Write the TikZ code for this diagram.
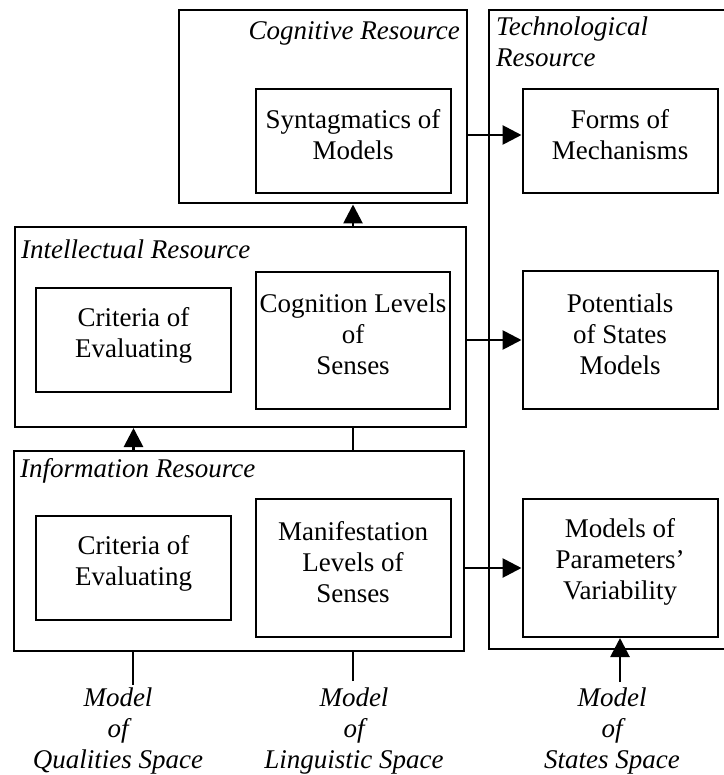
\documentclass[tikz,border=0pt]{standalone}
\usepackage{fontspec}
\setmainfont{Liberation Serif}
\usetikzlibrary{arrows.meta}
\tikzset{
  txt/.style={font=\fontsize{27}{31}\selectfont, align=center, inner sep=0pt},
  ttl/.style={font=\fontsize{27}{31}\selectfont\itshape, align=left, inner sep=0pt},
  lbl/.style={font=\fontsize{27}{31}\selectfont\itshape, align=center, inner sep=0pt},
  inbox/.style={draw, line width=2pt, inner sep=0pt},
  outbox/.style={draw, line width=2pt, inner sep=0pt},
  arr/.style={line width=2.8pt, -{Triangle[length=19pt,width=19pt]}},
  ln/.style={line width=2.8pt}
}
\begin{document}
\begin{tikzpicture}[x=1pt,y=-1pt]
\useasboundingbox (0,0) rectangle (723,775);
% outer boxes
\node[outbox, minimum width=288pt, minimum height=193pt] (cog) at (323,107) {};
\node[outbox, minimum width=251pt, minimum height=639pt] (tech) at (614.5,329.5) {};
\node[outbox, minimum width=451pt, minimum height=200pt] (intel) at (240.5,327) {};
\node[outbox, minimum width=450pt, minimum height=200pt] (info) at (239,551) {};
% titles
\node[ttl, anchor=east] (cogt) at (460,33) {Cognitive Resource};
\node[ttl, anchor=north west] (techt) at (496,17) {Technological\\Resource};
\node[ttl, anchor=west] (intelt) at (21,249) {Intellectual Resource};
\node[ttl, anchor=west] (infot) at (20,471) {Information Resource};
% inner boxes
\node[inbox, minimum width=195pt, minimum height=104pt] (syn) at (353,141) {};
\node[inbox, minimum width=195pt, minimum height=104pt] (forms) at (620,141) {};
\node[inbox, minimum width=195pt, minimum height=104pt] (crit1) at (133.5,340) {};
\node[inbox, minimum width=194pt, minimum height=137pt] (cogn) at (353,340.5) {};
\node[inbox, minimum width=195pt, minimum height=138pt] (pot) at (620,340) {};
\node[inbox, minimum width=195pt, minimum height=104pt] (crit2) at (133.5,568) {};
\node[inbox, minimum width=195pt, minimum height=138pt] (man) at (353,568) {};
\node[inbox, minimum width=195pt, minimum height=138pt] (par) at (620,568) {};
% inner texts
\node[txt] (synt) at ([yshift=6pt]syn.center) {Syntagmatics of\\Models};
\node[txt] (formst) at ([yshift=6pt]forms.center) {Forms of\\Mechanisms};
\node[txt] (crit1t) at ([yshift=5pt]crit1.center) {Criteria of\\Evaluating};
\node[txt] (cognt) at ([yshift=6pt]cogn.center) {Cognition Levels\\of\\Senses};
\node[txt] (pott) at ([yshift=6pt]pot.center) {Potentials\\of States\\Models};
\node[txt] (crit2t) at ([yshift=5pt]crit2.center) {Criteria of\\Evaluating};
\node[txt] (mant) at ([yshift=6pt]man.center) {Manifestation\\Levels of\\Senses};
\node[txt] (part) at ([yshift=6pt]par.center) {Models of\\Parameters’\\Variability};
% bottom labels
\node[lbl] (l1) at (118,731) {Model\\of\\Qualities Space};
\node[lbl] (l2) at (354,731) {Model\\of\\Linguistic Space};
\node[lbl] (l3) at (612,731) {Model\\of\\States Space};
% free ends
\coordinate (e1) at (133,685);
\coordinate (e2) at (353,681);
\coordinate (e3) at (620,682);
% connectors
\draw[arr] ([yshift=6pt]cog.east |- syn.east) -- ([yshift=6pt]forms.west);
\draw[arr] (intel.east |- pot.west) -- (pot.west);
\draw[arr] (info.east |- par.west) -- (par.west);
\draw[arr] (intel.north -| syn.south) -- (cog.south -| syn.south);
\draw[arr] (info.north -| crit1.south) -- (intel.south -| crit1.south);
\draw[ln] (info.north -| cogn.south) -- (intel.south -| cogn.south);
\draw[ln] (e1) -- (info.south -| e1);
\draw[ln] (e2) -- (info.south -| e2);
\draw[arr] (e3) -- (par.south);
\end{tikzpicture}
\end{document}
